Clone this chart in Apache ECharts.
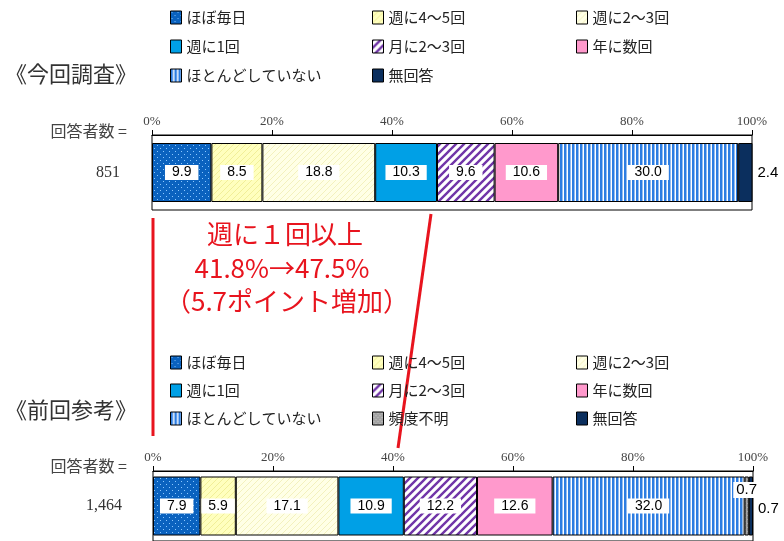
<!DOCTYPE html>
<html>
<head>
<meta charset="utf-8">
<script src="https://cdn.jsdelivr.net/npm/echarts@6/dist/echarts.min.js"></script>
<style>
  html, body { margin: 0; padding: 0; background: #fff; }
  #main { width: 784px; height: 541px; }
</style>
</head>
<body>
<div id="main"></div>
<script>
// 回答カテゴリ
var categories = ['ほぼ毎日', '週に4～5回', '週に2～3回', '週に1回', '月に2～3回', '年に数回', 'ほとんどしていない', '頻度不明', '無回答'];
// 今回調査 (頻度不明なし)
var current = [9.9, 8.5, 18.8, 10.3, 9.6, 10.6, 30.0, null, 2.4];
// 前回参考
var previous = [7.9, 5.9, 17.1, 10.9, 12.2, 12.6, 32.0, 0.7, 0.7];
var respondents = ['851', '1,464'];

var myChart = echarts.init(document.getElementById('main'));

// 塗りつぶしパターン
function pat(w, h, draw) {
    var c = document.createElement('canvas');
    c.width = w; c.height = h;
    var g = c.getContext('2d');
    draw(g, w, h);
    return { image: c, repeat: 'repeat' };
}
function diag(g, w, h, color, lw) {
    g.strokeStyle = color;
    g.lineWidth = lw;
    g.beginPath();
    g.moveTo(-1, h + 1); g.lineTo(w + 1, -1);
    g.moveTo(-w / 2 - 1, h / 2 + 1); g.lineTo(w / 2 + 1, -h / 2 - 1);
    g.moveTo(w / 2 - 1, h * 1.5 + 1); g.lineTo(w * 1.5 + 1, h / 2 - 1);
    g.stroke();
}

var colors = [
    pat(6, 6, function (g) {
        g.fillStyle = '#0A62BF'; g.fillRect(0, 0, 6, 6);
        g.fillStyle = '#8cc8ff'; g.fillRect(1, 1, 1, 1); g.fillRect(4, 4, 1, 1);
    }),
    pat(6, 6, function (g, w, h) {
        g.fillStyle = '#FFFFBE'; g.fillRect(0, 0, w, h);
        diag(g, w, h, '#F1EF98', 1);
    }),
    pat(6, 6, function (g, w, h) {
        g.fillStyle = '#FFFFE6'; g.fillRect(0, 0, w, h);
        diag(g, w, h, '#F3F1BE', 1);
    }),
    '#00A0E6',
    pat(8, 8, function (g, w, h) {
        g.fillStyle = '#ffffff'; g.fillRect(0, 0, w, h);
        diag(g, w, h, '#7135A8', 2.4);
    }),
    '#FF99CC',
    pat(4, 2, function (g) {
        g.fillStyle = '#ffffff'; g.fillRect(0, 0, 4, 2);
        g.fillStyle = '#2C7DE2'; g.fillRect(0, 0, 2.5, 2);
    }),
    pat(4, 4, function (g) {
        g.fillStyle = '#A3A3A3'; g.fillRect(0, 0, 4, 4);
        g.fillStyle = '#c8c8c8'; g.fillRect(1, 1, 1, 1); g.fillRect(3, 3, 1, 1);
    }),
    '#0B2F5E'
];

var labelBase = {
    show: true,
    position: 'inside',
    color: '#000',
    fontSize: 14,
    fontFamily: 'Liberation Sans',
    backgroundColor: '#fff',
    padding: [1, 7, 0, 7],
    formatter: function (p) { return p.value.toFixed(1); }
};

var series = [];
function addSeries(values, idx, special) {
    values.forEach(function (v, i) {
        if (v === null) return;
        var label = Object.assign({}, labelBase);
        if (special[i]) Object.assign(label, special[i]);
        series.push({
            name: categories[i],
            type: 'bar',
            stack: 'g' + idx,
            xAxisIndex: idx,
            yAxisIndex: idx,
            barWidth: 59,
            data: [v],
            itemStyle: { color: colors[i], borderColor: '#000', borderWidth: 1 },
            label: label,
            emphasis: { disabled: true }
        });
    });
}
addSeries(current, 0, {
    8: { position: 'right', distance: 5, backgroundColor: 'transparent', padding: 0, fontSize: 15 }
});
addSeries(previous, 1, {
    7: { offset: [0, -16], padding: [1, 3, 0, 3], fontSize: 15 },
    8: { position: 'right', distance: 5, backgroundColor: 'transparent', padding: 0, offset: [0, 3], fontSize: 15 }
});

function xAx(idx) {
    return {
        gridIndex: idx, type: 'value', position: 'top', min: 0, max: 100, interval: 20,
        axisLine: { show: true, lineStyle: { color: '#000', width: 1 } },
        axisTick: { show: true, length: 5, lineStyle: { color: '#000' } },
        axisLabel: { formatter: '{value}%', margin: 7, fontSize: 13, color: '#444', fontFamily: 'Liberation Serif' },
        splitLine: { show: false }
    };
}
function yAx(idx, margin) {
    return {
        gridIndex: idx, type: 'category', data: [respondents[idx]],
        axisLine: { show: false }, axisTick: { show: false },
        axisLabel: { margin: margin, fontSize: 16, color: '#333', fontFamily: 'Liberation Serif' }
    };
}

var legendCommon = {
    orient: 'vertical', itemWidth: 11, itemHeight: 13, icon: 'rect', padding: 0,
    selectedMode: false,
    textStyle: { fontSize: 15, lineHeight: 15, fontFamily: 'Noto Sans CJK JP', color: '#222' },
    itemStyle: { borderColor: '#000', borderWidth: 1 }
};
function leg(left, top, gap, names) {
    return Object.assign({}, legendCommon, { left: left, top: top, itemGap: gap, data: names });
}

var redText = { fill: '#E8141E', font: '26px "Noto Sans CJK JP"', textAlign: 'center', textVerticalAlign: 'middle' };
var titleText = { fill: '#333', font: '22px "Noto Sans CJK JP"', textVerticalAlign: 'middle' };
var countText = { fill: '#444', font: '16px "Noto Sans CJK JP"', textAlign: 'right', textVerticalAlign: 'middle' };

var option = {
    animation: false,
    grid: [
        { left: 152, width: 600, top: 135, height: 75, show: true, borderColor: '#000', borderWidth: 1 },
        { left: 153, width: 600, top: 471, height: 75, show: true, borderColor: '#000', borderWidth: 1 }
    ],
    xAxis: [xAx(0), xAx(1)],
    yAxis: [yAx(0, 32), yAx(1, 31)],
    legend: [
        leg(170, 10, 14, ['ほぼ毎日', '週に1回', 'ほとんどしていない']),
        leg(372, 10, 14, ['週に4～5回', '月に2～3回', '無回答']),
        leg(576, 10, 14, ['週に2～3回', '年に数回']),
        leg(170, 355, 13, ['ほぼ毎日', '週に1回', 'ほとんどしていない']),
        leg(372, 355, 13, ['週に4～5回', '月に2～3回', '頻度不明']),
        leg(576, 355, 13, ['週に2～3回', '年に数回', '無回答'])
    ],
    graphic: [
        { type: 'text', left: 5, top: 63, style: Object.assign({ text: '《今回調査》' }, titleText) },
        { type: 'text', left: 5, top: 399, style: Object.assign({ text: '《前回参考》' }, titleText) },
        { type: 'text', x: 127, y: 131, style: Object.assign({ text: '回答者数 =' }, countText) },
        { type: 'text', x: 127, y: 466, style: Object.assign({ text: '回答者数 =' }, countText) },
        { type: 'text', x: 285, y: 234, style: Object.assign({ text: '週に１回以上' }, redText) },
        { type: 'text', x: 282, y: 268, style: Object.assign({ text: '41.8%→47.5%' }, redText) },
        { type: 'text', x: 287, y: 301, style: Object.assign({ text: '（5.7ポイント増加）' }, redText) },
        { type: 'line', shape: { x1: 153, y1: 218, x2: 153, y2: 436 }, style: { stroke: '#E8141E', lineWidth: 3 } },
        { type: 'line', shape: { x1: 431, y1: 214, x2: 398, y2: 448 }, style: { stroke: '#E8141E', lineWidth: 3 } }
    ],
    series: series
};

myChart.setOption(option);
</script>
</body>
</html>
